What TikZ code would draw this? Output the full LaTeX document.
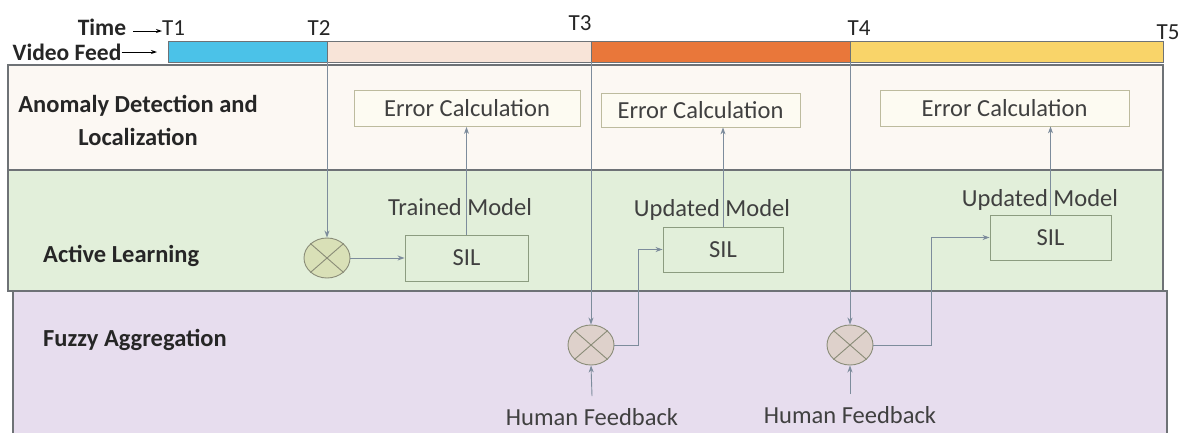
\documentclass[tikz,border=0pt]{standalone}
\usepackage{fontspec}
\setmainfont{Carlito}
\usetikzlibrary{shapes.geometric,arrows.meta}
\definecolor{cyanseg}{HTML}{4BC2E8}
\definecolor{peachseg}{HTML}{F8E4D8}
\definecolor{orangeseg}{HTML}{E9773A}
\definecolor{yellowseg}{HTML}{F9D469}
\definecolor{anomfill}{HTML}{FCF8F3}
\definecolor{greenfill}{HTML}{E2EFDA}
\definecolor{purplefill}{HTML}{E7DDEE}
\definecolor{panelline}{HTML}{6E7276}
\definecolor{conn}{HTML}{7D8C9C}
\definecolor{ecline}{HTML}{BDBB9E}
\definecolor{ecfill}{HTML}{FDFBF2}
\definecolor{silline}{HTML}{8C9C80}
\definecolor{circA}{HTML}{D9E0B7}
\definecolor{circB}{HTML}{DED1CB}
\definecolor{circline}{HTML}{8A8C78}
\definecolor{txt}{HTML}{404040}
\tikzset{
  panel/.style={draw=panelline, line width=1.2pt, anchor=north west, inner sep=0pt, outer sep=0pt},
  seg/.style={draw=panelline, line width=1pt, anchor=north west, inner sep=0pt, outer sep=0pt, minimum height=21pt},
  ecbox/.style={draw=ecline, fill=ecfill, line width=0.8pt, inner sep=0pt, minimum height=36pt, text=txt, font=\fontsize{24.5}{28}\selectfont},
  silbox/.style={draw=silline, fill=greenfill, line width=0.9pt, inner sep=0pt, minimum width=120pt, minimum height=45pt, text=txt, font=\fontsize{24.5}{28}\selectfont},
  mult/.style={ellipse, draw=circline, line width=0.9pt, minimum width=46pt, minimum height=40pt, inner sep=0pt},
  lbl/.style={text=txt, font=\fontsize{24.5}{28}\selectfont, inner sep=0pt},
  blbl/.style={text=black!85, font=\bfseries\fontsize{24.5}{28}\selectfont, inner sep=0pt},
  hlbl/.style={text=black!85, font=\bfseries\fontsize{23.5}{28}\selectfont, inner sep=0pt},
  tlbl/.style={text=black!85, font=\fontsize{23}{26}\selectfont, inner sep=0pt},
  arr/.style={draw=conn, line width=0.9pt, -{Stealth[length=7pt,width=5pt]}},
  blk/.style={draw=black, line width=0.9pt, -{Stealth[length=6pt,width=4pt]}}
}
\begin{document}
\begin{tikzpicture}[x=1pt,y=-1pt]
\useasboundingbox (0,0) rectangle (1181,432);
\fill[white] (0,0) rectangle (1181,432);
% panels
\node[panel, fill=purplefill, minimum width=1154pt, minimum height=150pt] (pF) at (13,291) {};
\node[panel, fill=greenfill, minimum width=1155pt, minimum height=121pt] (pL) at (8,170) {};
\node[panel, fill=anomfill, minimum width=1155pt, minimum height=105pt] (pA) at (8,65) {};
% video feed bar
\node[seg, fill=cyanseg, minimum width=159pt] (s1) at (168,41) {};
\node[seg, fill=peachseg, minimum width=264pt] (s2) at (327,41) {};
\node[seg, fill=orangeseg, minimum width=259pt] (s3) at (591,41) {};
\node[seg, fill=yellowseg, minimum width=313pt] (s4) at (850,41) {};
% header labels
\node[hlbl] (time) at (102,27) {Time};
\node[tlbl, anchor=west] (t1) at (162,28) {T1};
\coordinate (timeStart) at (133,31);
\draw[blk] (timeStart) -- (t1.west |- timeStart);
\node[hlbl] (vf) at (67,52) {Video Feed};
\coordinate (vfEnd) at (157,52);
\draw[blk] (vf.east) -- (vfEnd);
\node[tlbl] (t2) at (319,28) {T2};
\node[tlbl] (t3) at (580,23) {T3};
\node[tlbl] (t4) at (859,28) {T4};
\node[tlbl] (t5) at (1168,32) {T5};
% lane labels
\node[blbl] (la1) at (138,106) {Anomaly Detection and};
\node[blbl] (la2) at (138,137) {Localization};
\node[blbl, anchor=west] (ll) at (43,256) {Active Learning};
\node[blbl, anchor=west] (lf) at (43,340) {Fuzzy Aggregation};
% error calculation boxes
\node[ecbox, minimum width=226pt] (ec1) at (467,108.5) {Error Calculation};
\node[ecbox, minimum width=199pt, minimum height=34pt] (ec2) at (700.5,110) {Error Calculation};
\node[ecbox, minimum width=249pt] (ec3) at (1004.5,108) {Error Calculation};
% SIL boxes
\node[silbox, minimum width=123pt, minimum height=46pt] (sil1) at (466.5,258) {SIL};
\node[silbox] (sil2) at (723,249.5) {SIL};
\node[silbox, minimum width=121pt] (sil3) at (1050.5,237.5) {SIL};
% multipliers
\node[mult, fill=circA] (m1) at (327,258) {};
\node[mult, fill=circB] (m2) at (591,345) {};
\node[mult, fill=circB] (m3) at (850,345) {};
\foreach \m in {m1,m2,m3}{
  \draw[circline, line width=0.9pt] (\m.north west) -- (\m.south east);
  \draw[circline, line width=0.9pt] (\m.north east) -- (\m.south west);
}
% connectors
\draw[arr] (s1.south east) -- (m1.north);
\draw[arr] (s2.south east) -- (m2.north);
\draw[arr] (s3.south east) -- (m3.north);
\draw[arr] (m1.east) -- (sil1.west);
\draw[arr] (m2.east) -- ++(24pt,0) |- (sil2.west);
\draw[arr] (m3.east) -- ++(58pt,0) |- (sil3.west);
\draw[arr] (sil1.north) -- (sil1.north |- ec1.south);
\draw[arr] (sil2.north) -- (sil2.north |- ec2.south);
\draw[arr] (sil3.north) -- (sil3.north |- ec3.south);
% model labels
\node[lbl] (tm) at (460,207) {Trained Model};
\node[lbl] (um1) at (712,210) {Updated Model};
\node[lbl] (um2) at (1040,200) {Updated Model};
% human feedback
\node[lbl] (hf1) at (592,417) {Human Feedback};
\node[lbl] (hf2) at (850,415) {Human Feedback};
\coordinate (hf1s) at (592,396);
\coordinate (hf2s) at (850,394);
\draw[arr] (hf1s) -- (m2.south);
\draw[arr] (hf2s) -- (m3.south);
\end{tikzpicture}
\end{document}
